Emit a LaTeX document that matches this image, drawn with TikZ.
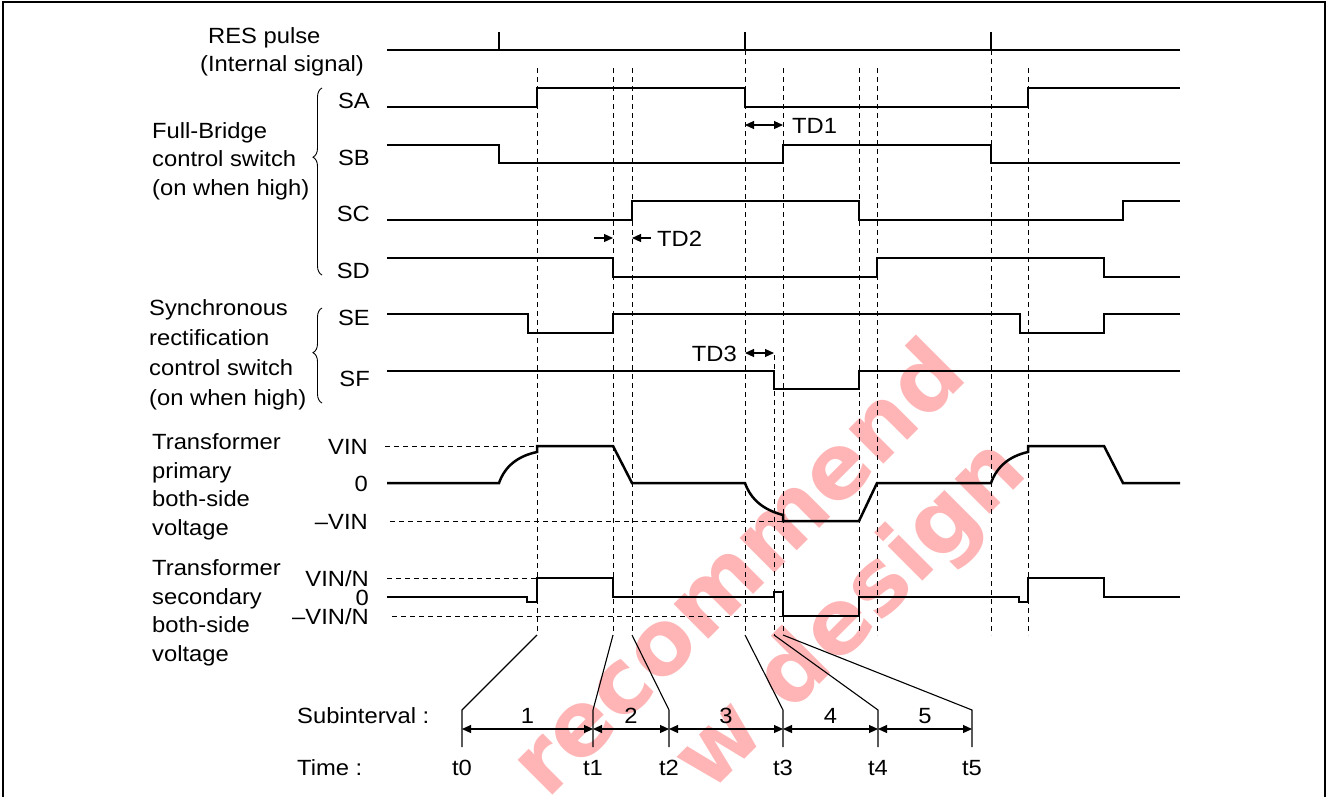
\documentclass[tikz,border=0pt]{standalone}
\usepackage{fontspec}
\setmainfont{Liberation Sans}[FakeStretch=1.08]
\newfontfamily\wmfont{DejaVu Sans}
\usetikzlibrary{calc}
\usetikzlibrary{positioning}
\usetikzlibrary{arrows.meta,decorations.pathreplacing}
\tikzstyle{wave} = [line width=2.5pt, line join=miter]
\tikzstyle{res} = [line width=1.8pt]
\tikzstyle{guide} = [line width=0.9pt, dash pattern=on 5pt off 4pt]
\tikzstyle{lead} = [line width=1.1pt]
\tikzstyle{dbl} = [line width=1.1pt, {Triangle[length=9pt,width=8pt]}-{Triangle[length=9pt,width=8pt]}]
\tikzstyle{sgl} = [line width=1.1pt, -{Triangle[length=9pt,width=8pt]}]
\tikzstyle{lbl} = [inner sep=0pt, font=\fontsize{22}{28.5}\selectfont]
\tikzstyle{curly} = [line width=0.9pt, decorate]
\tikzstyle{watermark} = [inner sep=0pt, rotate=45, text=red!29, font=\wmfont\bfseries\fontsize{90}{90}\selectfont]

\begin{document}
\begin{tikzpicture}[x=1pt, y=-1pt]
    \useasboundingbox (0,0) rectangle (1328,796);

    %% watermark
    \begin{scope}
        \clip (4.5,3.5) rectangle (1323.5,796);
        \node[watermark, anchor=base east] (wm1) at (970,378) {recommend};
        \node[watermark, anchor=base east] (wm2) at (1030,474) {w design};
    \end{scope}

    %% frame
    \draw [line width=2.5pt] (3,800) -- (3,2) -- (1325,2) -- (1325,800);

    %% dashed guides
    \foreach \x in {537,613,632,783,859,877,1028}
        \draw [guide] (\x,68) -- (\x,635);
    \foreach \x in {745,991}
        \draw [guide] (\x,50) -- (\x,635);
    \draw [guide] (774,355) -- (774,635);
    \draw [guide] (385,446) -- (537,446); %% VIN
    \draw [guide] (390,521) -- (783,521); %% -VIN
    \draw [guide] (387,578) -- (537,578); %% VIN/N
    \draw [guide] (392,616) -- (783,616); %% -VIN/N

    %% RES pulse
    \draw [res] (387,50) -- (1180,50);
    \foreach \x in {499,745,991}
        \draw [res] (\x,50) -- (\x,32);

    %% bridge switches
    \draw [wave] (387,107) -| (537,88) -| (745,107) -| (1028,88) -- (1180,88); %% SA
    \draw [wave] (387,145) -| (499,163) -| (783,145) -| (991,163) -- (1180,163); %% SB
    \draw [wave] (387,220) -| (632,201) -| (859,220) -| (1123,201) -- (1180,201); %% SC
    \draw [wave] (387,258) -| (613,277) -| (877,258) -| (1104,277) -- (1180,277); %% SD

    %% rectification switches
    \draw [wave] (387,314) -| (528,333) -| (613,314) -| (1020,333) -| (1104,314) -- (1180,314); %% SE
    \draw [wave] (387,371) -| (774,389) -| (859,371) -- (1180,371); %% SF

    %% primary voltage
    \draw [wave] (387,483) -- (499,483) .. controls (505,466) and (518,456) .. (537,452) -- (537,446)
        -- (613,446) -- (632,483) -- (745,483) .. controls (751,500) and (764,510) .. (783,515)
        -- (783,521) -- (859,521) -- (877,483) -- (991,483) .. controls (997,466) and (1010,456) .. (1028,452)
        -- (1028,446) -- (1104,446) -- (1123,483) -- (1180,483);

    %% secondary voltage
    \draw [wave] (387,597) -- (527,597) -- (527,602) -- (537,602) -- (537,578) -- (613,578) -- (613,597)
        -- (774,597) -- (774,592) -- (783,592) -- (783,616) -- (859,616) -- (859,597)
        -- (1019,597) -- (1019,602) -- (1028,602) -- (1028,578) -- (1104,578) -- (1104,597) -- (1180,597);

    %% delays
    \draw [dbl] (745,125) -- (783,125);
    \node[lbl, anchor=base west] (td1) at (792,133) {TD1};
    \draw [sgl] (594,238) -- (613,238);
    \draw [sgl] (651,238) -- (632,238);
    \node[lbl, anchor=base west] (td2) at (657,246) {TD2};
    \draw [dbl] (745,353) -- (774,353);
    \node[lbl, anchor=base east] (td3) at (737,361) {TD3};

    %% time axis
    \coordinate (e0) at (537,635);
    \coordinate (e1) at (613,635);
    \coordinate (e2) at (632,635);
    \coordinate (e3) at (745,635);
    \coordinate (e4) at (774,635);
    \coordinate (e5) at (783,635);
    \coordinate (t0) at (462,710);
    \coordinate (t1) at (593,710);
    \coordinate (t2) at (669,710);
    \coordinate (t3) at (783,710);
    \coordinate (t4) at (878,710);
    \coordinate (t5) at (972,710);
    \foreach \i in {0,...,5} {
        \draw [lead] (e\i) -- (t\i) -- ++(0,37);
        \node[lbl, anchor=base] (tl\i) at ($(t\i)+(0,65)$) {t\i};
    }
    \foreach \i/\j in {0/1,1/2,2/3,3/4,4/5} {
        \draw [dbl] ($(t\i)+(0,19)$) -- ($(t\j)+(0,19)$);
        \node[lbl, anchor=base] (sub\j) at ($($(t\i)!0.5!(t\j)$)+(0,13)$) {\j};
    }
    \node[lbl, anchor=base west] (subtext) at (297,723) {Subinterval :};
    \node[lbl, anchor=base west] (timetext) at (297,775) {Time :};

    %% left labels
    \node[lbl, anchor=base west] (restext) at (208,43) {RES pulse};
    \node[lbl, anchor=base west] (restext2) at (200,71) {(Internal signal)};
    \node[lbl, anchor=west, align=left] (fbtext) at (152,161) {Full-Bridge\\control switch\\(on when high)};
    \node[lbl, anchor=west, align=left, font=\fontsize{22}{30}\selectfont] (srtext) at (149,355) {Synchronous\\rectification\\control switch\\(on when high)};
    \node[lbl, anchor=west, align=left] (pritext) at (152,487) {Transformer\\primary\\both-side\\voltage};
    \node[lbl, anchor=west, align=left] (sectext) at (152,613) {Transformer\\secondary\\both-side\\voltage};

    \draw [curly, decoration={brace, amplitude=9pt, aspect=0.63}] (322,275) -- (322,88);
    \draw [curly, decoration={brace, amplitude=9pt, aspect=0.53}] (322,403) -- (322,308);

    %% signal names
    \node[lbl, anchor=base east] (sa) at (370,108) {SA};
    \node[lbl, anchor=base east] (sb) at (370,165) {SB};
    \node[lbl, anchor=base east] (sc) at (370,221) {SC};
    \node[lbl, anchor=base east] (sd) at (370,278) {SD};
    \node[lbl, anchor=base east] (se) at (370,325) {SE};
    \node[lbl, anchor=base east] (sf) at (370,386) {SF};
    \node[lbl, anchor=base east] (vin) at (368,454) {VIN};
    \node[lbl, anchor=base east] (pzero) at (368,491) {0};
    \node[lbl, anchor=base east] (nvin) at (368,529) {–VIN};
    \node[lbl, anchor=base east] (vinn) at (369,586) {VIN/N};
    \node[lbl, anchor=base east] (szero) at (369,605) {0};
    \node[lbl, anchor=base east] (nvinn) at (369,624) {–VIN/N};
\end{tikzpicture}
\end{document}
